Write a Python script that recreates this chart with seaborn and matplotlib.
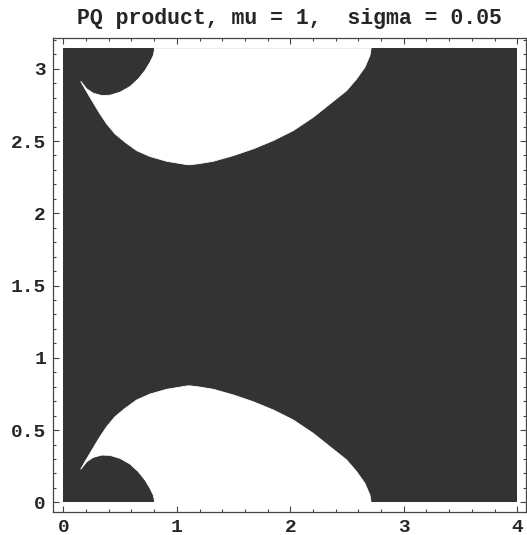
import numpy as np
import matplotlib
matplotlib.use("Agg")
import matplotlib.pyplot as plt
from matplotlib.ticker import MultipleLocator
import seaborn as sns

# boundary of the lower white region
low_outer_x = [0.153, 0.191, 0.235, 0.279, 0.323, 0.382, 0.455, 0.544, 0.646, 0.764, 0.911, 1.087, 1.116, 1.200,
               1.322, 1.498, 1.674, 1.850, 2.026, 2.203, 2.350, 2.497, 2.585, 2.658, 2.702, 2.712]
low_outer_y = [0.228, 0.281, 0.339, 0.397, 0.454, 0.523, 0.592, 0.650, 0.708, 0.749, 0.782, 0.805, 0.806, 0.798,
               0.782, 0.743, 0.696, 0.639, 0.570, 0.477, 0.385, 0.293, 0.212, 0.131, 0.050, 0.0]
low_inner_x = [0.153, 0.206, 0.264, 0.338, 0.411, 0.500, 0.588, 0.661, 0.720, 0.764, 0.793, 0.802, 0.802]
low_inner_y = [0.228, 0.281, 0.311, 0.327, 0.325, 0.304, 0.265, 0.212, 0.154, 0.097, 0.050, 0.015, 0.0]

# upper white region (mirror image about pi/2)
up_outer_x = low_outer_x
up_outer_y = [2.914, 2.861, 2.803, 2.745, 2.688, 2.619, 2.550, 2.492, 2.434, 2.393, 2.360, 2.337, 2.336, 2.344,
              2.360, 2.399, 2.446, 2.503, 2.572, 2.665, 2.757, 2.849, 2.930, 3.011, 3.092, 3.1416]
up_inner_x = low_inner_x
up_inner_y = [2.914, 2.861, 2.831, 2.815, 2.817, 2.838, 2.877, 2.930, 2.988, 3.045, 3.092, 3.127, 3.1416]

x_range = [0, 4]
y_top = np.pi

sns.set_style("ticks")
plt.rcParams['font.family'] = ['Liberation Mono', 'DejaVu Sans Mono']
plt.rcParams['font.weight'] = 'bold'

fig = plt.figure(figsize=(5.27, 5.35), dpi=100)
ax = fig.add_axes([53/527, 23/535, 473/527, 474/535])

dark = '#333333'
ax.fill_between(x_range, 0, y_top, color=dark, lw=0)

for ox, oy, ix, iy in [(low_outer_x, low_outer_y, low_inner_x, low_inner_y),
                       (up_outer_x, up_outer_y, up_inner_x, up_inner_y)]:
    px = list(ox) + list(ix[::-1])
    py = list(oy) + list(iy[::-1])
    ax.fill(px, py, facecolor='white', edgecolor='white', lw=0.6)

ax.set_xlim(-0.091, 4.077)
ax.set_ylim(-0.067, 3.213)
ax.xaxis.set_minor_locator(MultipleLocator(0.2))
ax.yaxis.set_minor_locator(MultipleLocator(0.1))
ax.set_xticks([0, 1, 2, 3, 4])
ax.set_xticklabels(['0', '1', '2', '3', '4'])
ax.set_yticks([0, 0.5, 1, 1.5, 2, 2.5, 3])
ax.set_yticklabels(['0', '0.5', '1', '1.5', '2', '2.5', '3'])
ax.tick_params(which='both', direction='in', top=True, right=True, color='#444444', width=0.8)
ax.tick_params(which='major', length=4, labelsize=14, pad=5)
ax.tick_params(which='minor', length=2.5)
for s in ax.spines.values():
    s.set_color('#444444')
    s.set_linewidth(0.9)
ax.set_title('PQ product, mu = 1,  sigma = 0.05', fontsize=15.5, fontweight='bold', pad=10)

fig.savefig('out.png', dpi=100)
